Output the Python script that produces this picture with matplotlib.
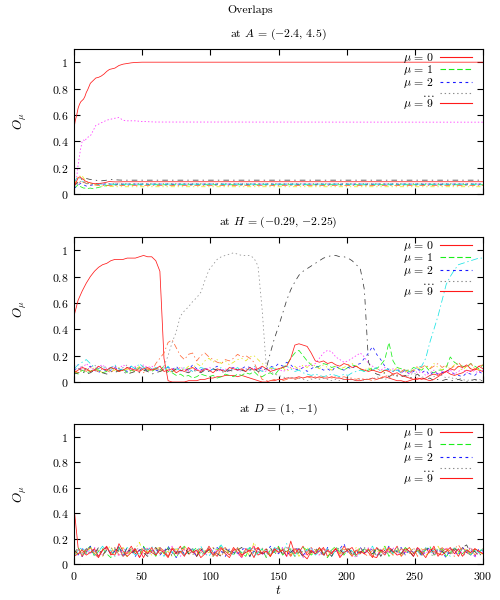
import numpy as np
import matplotlib
matplotlib.use('Agg')
import matplotlib.pyplot as plt

plt.rcParams['mathtext.fontset'] = 'cm'
plt.rcParams['font.family'] = 'serif'
plt.rcParams['font.serif'] = ['cmr10', 'DejaVu Serif']
plt.rcParams['axes.unicode_minus'] = False
plt.rcParams['axes.formatter.use_mathtext'] = True
plt.rcParams['lines.scale_dashes'] = False

# ---------------- data ----------------
FIG_TITLE = "Overlaps"
PANEL_TITLES = [r"at $A\,=\,(-2.4,\,4.5)$", r"at $H\,=\,(-0.29,\,{-}2.25)$", r"at $D\,=\,(1,\,{-}1)$"]
YTICKS = [0, 0.2, 0.4, 0.6, 0.8, 1.0]
YTICK_LABELS = [r"$0$", r"$0.2$", r"$0.4$", r"$0.6$", r"$0.8$", r"$1$"]
XTICKS = [0, 50, 100, 150, 200, 250, 300]
XTICK_LABELS = [r"$0$", r"$50$", r"$100$", r"$150$", r"$200$", r"$250$", r"$300$"]
LEGEND_LABELS = [r"$\mu\,=\,0$", r"$\mu\,=\,1$", r"$\mu\,=\,2$", r"$\ldots$", r"$\mu\,=\,9$"]

# Panel A: time points and overlaps (converge quickly, then flat)
T_A = [0, 1, 2, 3, 4, 5, 6, 7, 8, 9, 10, 12, 14, 16, 18, 20, 22, 24, 26, 28, 30,
       33, 36, 39, 42, 45, 50, 55, 60, 300]
A_mu0 = [0.50, 0.56, 0.60, 0.65, 0.68, 0.70, 0.71, 0.72, 0.74, 0.77, 0.79, 0.84, 0.86, 0.88, 0.885,
         0.895, 0.91, 0.93, 0.945, 0.95, 0.955, 0.975, 0.985, 0.99, 0.995, 0.998, 1.0, 1.0, 1.0, 1.0]
A_mu1 = [0.06, 0.05, 0.06, 0.07, 0.06, 0.055, 0.05, 0.045, 0.045, 0.04, 0.042, 0.045, 0.04, 0.045, 0.05,
         0.055, 0.06, 0.065, 0.068, 0.07, 0.07, 0.07, 0.07, 0.07, 0.07, 0.07, 0.07, 0.07, 0.07, 0.07]
A_mu2 = [0.04, 0.05, 0.06, 0.07, 0.075, 0.08, 0.075, 0.07, 0.065, 0.06, 0.062, 0.065, 0.07, 0.07, 0.072,
         0.075, 0.075, 0.075, 0.075, 0.075, 0.075, 0.075, 0.075, 0.075, 0.075, 0.075, 0.075, 0.075, 0.075, 0.075]
A_mu3 = [0.05, 0.09, 0.13, 0.22, 0.29, 0.35, 0.40, 0.41, 0.40, 0.42, 0.43, 0.44, 0.48, 0.52, 0.53,
         0.54, 0.55, 0.56, 0.565, 0.57, 0.575, 0.58, 0.56, 0.555, 0.555, 0.555, 0.55, 0.548, 0.546, 0.545]
A_mu4 = [0.08, 0.10, 0.12, 0.11, 0.12, 0.115, 0.10, 0.09, 0.085, 0.08, 0.08, 0.075, 0.07, 0.072, 0.075,
         0.075, 0.075, 0.075, 0.075, 0.075, 0.075, 0.075, 0.075, 0.075, 0.075, 0.075, 0.075, 0.075, 0.075, 0.075]
A_mu5 = [0.07, 0.09, 0.11, 0.13, 0.14, 0.13, 0.14, 0.12, 0.11, 0.10, 0.09, 0.08, 0.075, 0.07, 0.065,
         0.06, 0.06, 0.058, 0.057, 0.056, 0.055, 0.055, 0.055, 0.055, 0.055, 0.055, 0.055, 0.055, 0.055, 0.055]
A_mu6 = [0.06, 0.07, 0.08, 0.09, 0.10, 0.11, 0.115, 0.12, 0.12, 0.118, 0.115, 0.11, 0.108, 0.105, 0.10,
         0.10, 0.102, 0.105, 0.108, 0.11, 0.108, 0.106, 0.105, 0.105, 0.105, 0.105, 0.105, 0.105, 0.105, 0.105]
A_mu7 = [0.06, 0.08, 0.09, 0.10, 0.09, 0.085, 0.08, 0.09, 0.085, 0.08, 0.075, 0.07, 0.07, 0.068, 0.066,
         0.065, 0.065, 0.065, 0.065, 0.065, 0.065, 0.065, 0.065, 0.065, 0.065, 0.065, 0.065, 0.065, 0.065, 0.065]
A_mu8 = [0.05, 0.06, 0.07, 0.08, 0.09, 0.095, 0.10, 0.095, 0.09, 0.085, 0.08, 0.08, 0.08, 0.08, 0.08,
         0.08, 0.08, 0.08, 0.08, 0.08, 0.08, 0.08, 0.08, 0.08, 0.08, 0.08, 0.08, 0.08, 0.08, 0.08]
A_mu9 = [0.05, 0.08, 0.10, 0.12, 0.13, 0.125, 0.115, 0.11, 0.10, 0.095, 0.09, 0.085, 0.08, 0.078, 0.08,
         0.082, 0.085, 0.09, 0.095, 0.093, 0.092, 0.092, 0.093, 0.093, 0.093, 0.093, 0.093, 0.093, 0.093, 0.093]

# Panels H and D: overlaps in hundredths, sampled every T_STEP time units (t = 0..300)
T_STEP = 3
H_mu0 = [50, 62, 69, 75, 80, 84, 87, 89, 90, 92,
         93, 93, 93, 94, 94, 94, 95, 96, 95, 95,
         92, 84, 18, 1, 0, 0, 0, 0, 1, 1,
         1, 2, 2, 3, 3, 4, 4, 5, 5, 5,
         4, 5, 4, 3, 2, 1, 0, 0, 1, 1,
         2, 2, 3, 3, 3, 4, 3, 4, 4, 3,
         4, 3, 3, 4, 3, 3, 2, 2, 2, 1,
         1, 2, 2, 3, 2, 3, 4, 3, 2, 1,
         1, 0, 1, 2, 3, 2, 3, 5, 6, 5,
         7, 8, 6, 5, 6, 7, 9, 8, 10, 9,
         8]
H_mu1 = [8, 6, 9, 7, 8, 10, 9, 7, 8, 11,
         9, 8, 10, 7, 9, 8, 11, 10, 9, 8,
         10, 9, 12, 8, 7, 5, 6, 4, 5, 3,
         4, 6, 5, 4, 5, 3, 4, 6, 5, 4,
         6, 5, 7, 6, 8, 5, 4, 6, 7, 5,
         9, 11, 13, 18, 22, 24, 20, 16, 13, 11,
         12, 14, 13, 11, 12, 10, 9, 11, 13, 12,
         10, 8, 9, 11, 10, 13, 17, 30, 16, 11,
         10, 9, 8, 11, 10, 9, 12, 8, 7, 9,
         9, 11, 19, 15, 13, 12, 11, 14, 12, 10,
         13]
H_mu2 = [9, 11, 8, 10, 12, 9, 7, 10, 8, 9,
         11, 9, 10, 8, 12, 10, 9, 11, 8, 10,
         9, 8, 10, 11, 9, 12, 8, 10, 9, 13,
         10, 9, 11, 8, 10, 12, 9, 8, 10, 11,
         9, 10, 12, 11, 10, 9, 11, 10, 12, 11,
         14, 12, 15, 13, 10, 9, 11, 8, 10, 12,
         11, 9, 10, 8, 12, 10, 9, 11, 10, 13,
         14, 18, 22, 27, 21, 17, 12, 9, 8, 10,
         7, 9, 6, 8, 10, 7, 9, 5, 8, 6,
         7, 9, 8, 6, 5, 4, 7, 6, 5, 8,
         6]
H_mu3 = [12, 13, 10, 14, 11, 9, 12, 13, 10, 11,
         12, 10, 13, 11, 9, 12, 10, 13, 11, 12,
         10, 9, 11, 8, 10, 9, 11, 10, 8, 9,
         10, 8, 9, 11, 10, 8, 9, 10, 8, 11,
         9, 8, 10, 9, 11, 10, 9, 8, 10, 9,
         10, 8, 9, 11, 10, 12, 11, 13, 12, 14,
         18, 22, 24, 23, 19, 17, 15, 16, 18, 20,
         22, 19, 14, 12, 10, 9, 11, 8, 10, 9,
         7, 8, 6, 9, 7, 8, 5, 7, 9, 6,
         8, 7, 9, 6, 8, 10, 7, 9, 8, 7,
         9]
H_mu4 = [10, 13, 15, 17, 14, 11, 10, 12, 9, 11,
         13, 10, 9, 11, 12, 10, 14, 11, 10, 9,
         11, 10, 9, 12, 8, 10, 9, 11, 10, 8,
         9, 11, 10, 8, 10, 9, 11, 8, 10, 9,
         11, 8, 10, 9, 12, 10, 8, 9, 11, 10,
         9, 11, 12, 10, 8, 9, 7, 6, 5, 6,
         5, 4, 5, 6, 5, 4, 6, 5, 7, 8,
         9, 8, 10, 9, 11, 8, 9, 10, 8, 9,
         7, 10, 8, 9, 11, 12, 18, 30, 40, 50,
         62, 74, 80, 85, 89, 90, 91, 92, 93, 94,
         94]
H_mu5 = [8, 7, 9, 10, 8, 11, 9, 7, 10, 8,
         9, 11, 8, 10, 7, 9, 12, 8, 10, 9,
         11, 8, 10, 9, 7, 10, 11, 9, 12, 10,
         14, 12, 16, 18, 15, 17, 14, 16, 13, 15,
         17, 18, 16, 19, 20, 17, 14, 12, 10, 11,
         9, 11, 8, 10, 12, 9, 13, 11, 14, 12,
         10, 13, 11, 9, 12, 10, 11, 13, 14, 12,
         10, 9, 11, 8, 10, 9, 7, 10, 8, 11,
         9, 7, 10, 8, 11, 9, 12, 10, 14, 11,
         9, 12, 10, 13, 11, 9, 12, 10, 11, 9,
         10]
H_mu6 = [6, 7, 8, 6, 7, 9, 8, 7, 6, 8,
         7, 9, 8, 6, 7, 8, 7, 9, 8, 6,
         7, 8, 9, 7, 8, 10, 9, 8, 7, 9,
         8, 7, 9, 8, 10, 9, 8, 7, 9, 8,
         10, 9, 8, 9, 10, 8, 9, 10, 22, 33,
         42, 52, 62, 70, 76, 81, 84, 86, 88, 90,
         92, 94, 95, 96, 96, 95, 95, 94, 92, 89,
         86, 70, 15, 8, 6, 5, 7, 4, 6, 5,
         4, 5, 3, 4, 6, 3, 2, 3, 1, 2,
         1, 2, 1, 1, 2, 1, 0, 1, 2, 1,
         1]
H_mu7 = [9, 7, 10, 8, 11, 9, 8, 10, 9, 7,
         10, 8, 9, 11, 8, 10, 9, 7, 10, 8,
         14, 18, 22, 30, 32, 26, 20, 17, 21, 22,
         16, 20, 22, 19, 17, 15, 14, 17, 16, 18,
         21, 19, 20, 18, 15, 8, 2, 1, 1, 2,
         2, 1, 2, 3, 2, 3, 3, 4, 3, 4,
         3, 4, 4, 3, 4, 3, 4, 3, 3, 2,
         3, 2, 2, 1, 2, 3, 5, 4, 6, 5,
         8, 10, 7, 9, 12, 11, 13, 10, 12, 14,
         11, 13, 10, 12, 15, 11, 12, 14, 10, 12,
         13]
H_mu8 = [11, 10, 12, 9, 11, 13, 10, 12, 11, 9,
         12, 10, 11, 13, 9, 11, 10, 12, 10, 11,
         9, 12, 12, 20, 30, 38, 50, 54, 57, 61,
         64, 68, 77, 85, 89, 93, 95, 96, 97, 98,
         97, 96, 96, 96, 94, 88, 55, 12, 8, 6,
         5, 4, 3, 4, 2, 3, 2, 1, 2, 3,
         2, 3, 2, 1, 2, 1, 2, 3, 2, 1,
         2, 1, 3, 2, 4, 3, 2, 3, 5, 4,
         6, 4, 5, 7, 5, 4, 3, 5, 4, 6,
         5, 3, 4, 2, 3, 2, 1, 2, 1, 2,
         1]
H_mu9 = [7, 9, 11, 10, 8, 9, 12, 10, 9, 11,
         10, 8, 9, 11, 10, 9, 8, 10, 11, 9,
         10, 12, 8, 9, 10, 7, 9, 8, 10, 11,
         9, 8, 10, 9, 7, 10, 9, 8, 11, 10,
         9, 10, 8, 11, 9, 10, 12, 10, 8, 9,
         10, 11, 12, 18, 28, 29, 28, 27, 22, 16,
         15, 16, 14, 15, 13, 12, 14, 13, 11, 12,
         10, 9, 8, 9, 8, 7, 9, 8, 6, 7,
         5, 4, 3, 2, 2, 3, 2, 1, 2, 4,
         6, 8, 10, 9, 12, 11, 13, 10, 9, 12,
         10]

D_mu0 = [45, 13, 6, 10, 13, 8, 5, 11, 14, 7,
         10, 13, 6, 9, 14, 8, 11, 5, 12, 9,
         7, 13, 10, 6, 12, 9, 14, 7, 10, 12,
         6, 11, 8, 14, 9, 6, 12, 10, 7, 13,
         9, 5, 12, 10, 14, 7, 9, 12, 6, 11,
         13, 8, 10, 6, 12, 9, 14, 7, 11, 8,
         10, 13, 6, 9, 12, 8, 14, 10, 6, 11,
         8, 12, 9, 5, 13, 10, 7, 12, 9, 14,
         6, 10, 13, 8, 11, 7, 12, 9, 14, 6,
         10, 12, 8, 11, 6, 13, 9, 7, 12, 10,
         8]
D_mu1 = [8, 13, 7, 11, 14, 6, 10, 12, 8, 5,
         11, 13, 9, 6, 12, 10, 7, 14, 9, 11,
         6, 12, 8, 13, 10, 5, 11, 14, 8, 10,
         13, 7, 9, 12, 6, 11, 14, 8, 10, 7,
         12, 9, 6, 13, 10, 8, 12, 5, 11, 9,
         14, 7, 10, 12, 6, 9, 13, 11, 7, 10,
         12, 8, 5, 11, 14, 9, 7, 12, 10, 6,
         13, 9, 11, 7, 12, 10, 14, 6, 9, 11,
         8, 13, 10, 6, 12, 8, 11, 14, 7, 10,
         12, 6, 9, 13, 10, 8, 12, 7, 11, 9,
         13]
D_mu2 = [11, 7, 12, 9, 14, 10, 6, 11, 13, 8,
         10, 14, 7, 9, 12, 6, 11, 13, 8, 10,
         12, 7, 10, 14, 9, 5, 11, 8, 13, 10,
         6, 12, 9, 11, 7, 13, 10, 6, 12, 9,
         8, 11, 13, 6, 10, 12, 9, 7, 14, 10,
         8, 12, 6, 11, 9, 13, 7, 10, 12, 8,
         11, 6, 13, 9, 10, 12, 16, 8, 11, 7,
         13, 9, 10, 12, 6, 11, 8, 14, 9, 10,
         13, 7, 11, 9, 12, 6, 10, 13, 8, 11,
         9, 5, 12, 10, 7, 13, 9, 11, 6, 12,
         10]
D_mu3 = [9, 12, 6, 11, 8, 13, 10, 7, 12, 9,
         11, 6, 13, 9, 10, 12, 5, 9, 13, 11,
         7, 12, 10, 8, 14, 9, 6, 11, 13, 8,
         10, 12, 7, 9, 13, 10, 6, 12, 9, 11,
         8, 5, 12, 10, 14, 9, 7, 11, 8, 12,
         10, 13, 6, 9, 12, 11, 5, 10, 13, 8,
         7, 12, 10, 9, 13, 6, 11, 12, 8, 5,
         10, 8, 13, 11, 6, 12, 9, 10, 13, 7,
         12, 9, 11, 6, 13, 10, 8, 12, 7, 11,
         9, 13, 10, 6, 12, 8, 11, 13, 5, 10,
         9]
D_mu4 = [6, 11, 13, 8, 12, 7, 10, 14, 9, 11,
         6, 12, 8, 13, 10, 7, 9, 12, 11, 14,
         8, 10, 6, 12, 9, 13, 11, 7, 9, 12,
         10, 14, 8, 6, 11, 12, 15, 9, 10, 7,
         12, 8, 11, 13, 6, 9, 12, 10, 7, 13,
         11, 8, 16, 10, 6, 12, 9, 11, 13, 7,
         10, 8, 12, 6, 11, 13, 9, 12, 10, 7,
         8, 12, 10, 14, 6, 9, 11, 12, 8, 13,
         7, 11, 9, 12, 10, 6, 13, 8, 11, 12,
         9, 10, 6, 13, 8, 12, 10, 7, 11, 9,
         12]
D_mu5 = [10, 7, 12, 9, 13, 8, 11, 6, 12, 14,
         8, 10, 13, 6, 11, 12, 17, 8, 10, 7,
         12, 13, 8, 10, 6, 12, 9, 14, 10, 8,
         7, 12, 10, 9, 13, 11, 6, 12, 8, 10,
         13, 8, 11, 6, 17, 10, 8, 12, 7, 11,
         9, 13, 10, 7, 12, 6, 11, 13, 8, 10,
         12, 9, 6, 11, 13, 8, 12, 10, 7, 13,
         8, 11, 12, 6, 10, 9, 14, 11, 7, 12,
         6, 10, 13, 8, 11, 12, 7, 9, 10, 14,
         8, 12, 10, 6, 9, 13, 11, 8, 12, 10,
         7]
D_mu6 = [11, 8, 6, 12, 10, 8, 13, 7, 11, 9,
         12, 10, 6, 13, 8, 11, 12, 9, 6, 10,
         13, 8, 10, 12, 6, 9, 11, 13, 8, 10,
         6, 12, 9, 11, 13, 8, 6, 12, 10, 8,
         11, 13, 9, 6, 12, 10, 8, 11, 13, 7,
         12, 8, 11, 9, 13, 10, 6, 12, 9, 11,
         13, 8, 10, 6, 12, 11, 8, 13, 7, 10,
         9, 12, 10, 8, 13, 6, 11, 9, 12, 10,
         8, 13, 10, 6, 12, 9, 11, 13, 8, 12,
         10, 7, 9, 12, 10, 13, 15, 8, 10, 6,
         10]
D_mu7 = [7, 12, 9, 11, 13, 8, 6, 11, 12, 9,
         13, 7, 10, 8, 12, 11, 6, 13, 9, 10,
         12, 8, 11, 6, 13, 10, 9, 12, 7, 11,
         8, 13, 10, 12, 6, 9, 11, 13, 8, 12,
         10, 6, 12, 9, 11, 13, 8, 10, 6, 12,
         9, 11, 13, 7, 12, 8, 10, 9, 13, 11,
         7, 12, 10, 8, 13, 6, 11, 12, 9, 10,
         13, 8, 6, 11, 12, 9, 13, 10, 7, 9,
         12, 10, 8, 13, 6, 11, 12, 9, 10, 7,
         13, 9, 11, 12, 15, 10, 8, 13, 7, 10,
         12]
D_mu8 = [9, 11, 7, 13, 8, 12, 10, 6, 11, 13,
         8, 12, 6, 10, 9, 13, 11, 12, 7, 9,
         10, 13, 8, 6, 12, 10, 8, 13, 11, 7,
         12, 9, 10, 13, 6, 11, 9, 12, 10, 8,
         13, 7, 10, 12, 8, 11, 13, 6, 9, 12,
         10, 8, 13, 11, 6, 12, 9, 10, 13, 8,
         11, 6, 12, 9, 10, 13, 8, 12, 7, 11,
         9, 13, 10, 12, 6, 11, 8, 13, 10, 9,
         12, 7, 11, 9, 13, 10, 12, 8, 6, 11,
         13, 10, 8, 12, 11, 6, 9, 13, 10, 8,
         11]
D_mu9 = [6, 8, 11, 7, 9, 12, 6, 11, 13, 8,
         7, 16, 10, 6, 9, 12, 5, 11, 8, 13,
         7, 11, 9, 5, 12, 8, 10, 6, 13, 9,
         11, 5, 8, 12, 7, 10, 13, 8, 5, 11,
         12, 7, 9, 11, 5, 13, 8, 10, 6, 12,
         9, 11, 6, 18, 8, 12, 7, 4, 10, 8,
         13, 7, 11, 8, 12, 5, 9, 11, 13, 7,
         10, 8, 12, 6, 5, 11, 9, 13, 10, 7,
         8, 12, 10, 6, 13, 9, 5, 11, 12, 8,
         7, 10, 13, 8, 12, 6, 11, 9, 12, 10,
         8]

# ---------------- styles ----------------
COLORS = ['#ff1a1a', '#1aee1a', '#1a1aff', '#ff2aff', '#1ae4e4',
          '#e6e61a', '#3a3a3a', '#ff6a3a', '#8c8c8c', '#ff1a1a']
DASHES = ['-', (0, (4, 2)), (0, (2, 2.5)), (0, (1, 1.5)), (0, (5, 2, 1, 2)),
          (0, (3, 2, 1, 2, 1, 2)), (0, (4, 3, 1, 3)), (0, (4, 2, 1, 2)), (0, (1, 2)), '-']
LW = 0.55

fig = plt.figure(figsize=(5, 6), dpi=100)
fig.text(0.5, 1 - 10 / 600, FIG_TITLE, ha='center', va='center', fontsize=8.5)

positions = [[0.148, 1 - 194 / 600, 0.818, 145 / 600],
             [0.148, 1 - 382 / 600, 0.818, 145 / 600],
             [0.148, 1 - 564 / 600, 0.818, 140 / 600]]

panel_A = [A_mu0, A_mu1, A_mu2, A_mu3, A_mu4, A_mu5, A_mu6, A_mu7, A_mu8, A_mu9]
panel_H = [H_mu0, H_mu1, H_mu2, H_mu3, H_mu4, H_mu5, H_mu6, H_mu7, H_mu8, H_mu9]
panel_D = [D_mu0, D_mu1, D_mu2, D_mu3, D_mu4, D_mu5, D_mu6, D_mu7, D_mu8, D_mu9]

panels = [(np.array(T_A), [np.array(s) for s in panel_A])]
for pdata in (panel_H, panel_D):
    t = np.arange(len(pdata[0])) * T_STEP
    panels.append((t, [np.array(s) / 100.0 for s in pdata]))

for k, (pos, (t, series), title) in enumerate(zip(positions, panels, PANEL_TITLES)):
    ax = fig.add_axes(pos)
    lines = []
    for mu, y in enumerate(series):
        ln, = ax.plot(t, y, color=COLORS[mu], linestyle=DASHES[mu], lw=LW)
        lines.append(ln)
    ax.set_xlim(0, 300)
    ax.set_ylim(0, 1.1)
    ax.set_yticks(YTICKS, YTICK_LABELS)
    if k == 2:
        ax.set_xticks(XTICKS, XTICK_LABELS)
        ax.set_xlabel(r"$t$", fontsize=9.5, labelpad=2)
    else:
        ax.set_xticks(XTICKS, [''] * len(XTICKS))
    ax.tick_params(direction='in', top=True, right=True, length=4, width=0.8,
                   labelsize=8.5, pad=4)
    for sp in ax.spines.values():
        sp.set_linewidth(0.8)
    ax.set_ylabel(r"$O_\mu$", fontsize=9.5)
    ax.yaxis.set_label_coords(-0.11, 0.5)
    ax.set_title(title, fontsize=8.5, pad=9)
    handles = [lines[0], lines[1], lines[2], lines[8], lines[9]]
    leg = ax.legend(handles, LEGEND_LABELS, loc='upper right', bbox_to_anchor=(0.977, 1.0),
                    frameon=False, markerfirst=False, fontsize=8.5, handlelength=2.7,
                    labelspacing=-0.12, handletextpad=0.5, borderaxespad=0.1, borderpad=0.05)
    for lh in leg.get_lines():
        lh.set_linewidth(0.8)

fig.savefig('out.png', dpi=100)
